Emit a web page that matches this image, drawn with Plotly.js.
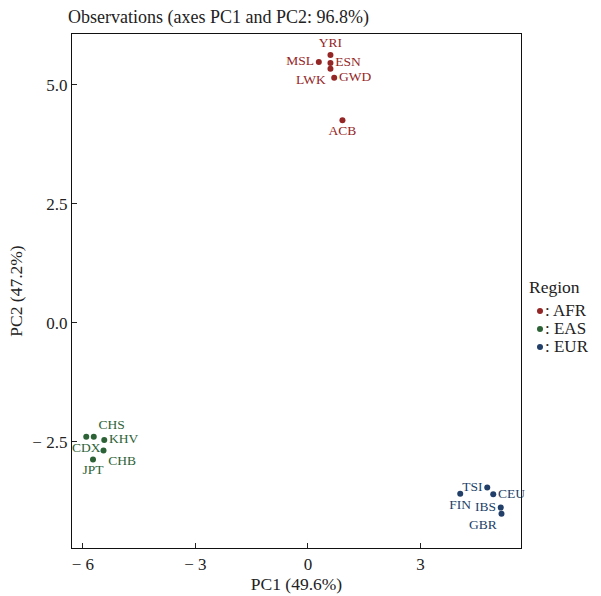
<!DOCTYPE html>
<html>
<head>
<meta charset="utf-8">
<script src="https://cdn.plot.ly/plotly-3.0.1.min.js"></script>
<style>html,body{margin:0;padding:0;background:#fff;}</style>
</head>
<body>
<div id="chart" style="width:601px;height:596px;"></div>
<script>
// Data
const afrLabels = ["YRI", "MSL", "ESN", "LWK", "GWD", "ACB"];
const afrPC1 = [0.60, 0.29, 0.60, 0.60, 0.70, 0.92];
const afrPC2 = [5.63, 5.48, 5.46, 5.34, 5.15, 4.26];

const easLabels = ["CDX", "CHS", "KHV", "CHB", "JPT"];
const easPC1 = [-5.91, -5.71, -5.43, -5.45, -5.73];
const easPC2 = [-2.39, -2.39, -2.46, -2.68, -2.87];

const eurLabels = ["TSI", "FIN", "CEU", "IBS", "GBR"];
const eurPC1 = [4.78, 4.06, 4.94, 5.14, 5.16];
const eurPC2 = [-3.46, -3.59, -3.60, -3.88, -4.01];

const regions = ["AFR", "EAS", "EUR"];
const xTickVals = [-6, -3, 0, 3];
const xTickText = ["\u2212 6", "\u2212 3", "0", "3"];
const yTickVals = [-2.5, 0, 2.5, 5];
const yTickText = ["\u2212 2.5", "0.0", "2.5", "5.0"];

// Styles
const colors = {AFR: "#952626", EAS: "#2d6236", EUR: "#223f69"};
const afrPos = ["top center", "middle left", "middle right", "bottom left", "middle right", "bottom center"];
const easPos = ["bottom center", "top right", "middle right", "bottom right", "bottom center"];
const eurPos = ["middle left", "bottom center", "middle right", "middle left", "bottom left"];

const font = "Liberation Serif, Times New Roman, serif";

// plot box in pixels
const L = 72, R = 521, T = 34, B = 548;
const px = v => (v - L) / (R - L);
const py = v => (B - v) / (B - T);

function mk(name, xs, ys, labels, pos) {
  return {
    type: "scatter", mode: "markers+text", name: ": " + name,
    x: xs, y: ys, text: labels, textposition: pos,
    marker: {color: colors[name], size: 6},
    textfont: {family: font, size: 13.5, color: colors[name]},
    cliponaxis: false, showlegend: false,
    hoverinfo: "text"
  };
}

const traces = [
  mk("AFR", afrPC1, afrPC2, afrLabels, afrPos),
  mk("EAS", easPC1, easPC2, easLabels, easPos),
  mk("EUR", eurPC1, eurPC2, eurLabels, eurPos)
];

// custom legend
const annotations = [{
  text: "Region", xref: "paper", yref: "paper", x: px(527), y: py(287),
  xanchor: "left", yanchor: "middle", showarrow: false,
  font: {family: font, size: 17.5, color: "#222"}
}];
const shapes = [];
const rowY = [310, 328, 346];
regions.forEach((r, i) => {
  annotations.push({
    text: ": " + r, xref: "paper", yref: "paper", x: px(544), y: py(rowY[i]),
    xanchor: "left", yanchor: "middle", showarrow: false,
    height: 16, valign: "middle", borderpad: 0,
    font: {family: font, size: 17, color: "#222"}
  });
  shapes.push({
    type: "circle", xref: "paper", yref: "paper",
    xsizemode: "pixel", ysizemode: "pixel",
    xanchor: px(540), yanchor: py(rowY[i] + 1),
    x0: -3, x1: 3, y0: -3, y1: 3,
    fillcolor: colors[r], line: {width: 0}
  });
});

const layout = {
  width: 601, height: 596,
  margin: {l: L, r: 601 - R, t: T, b: 596 - B, pad: 0, autoexpand: false},
  paper_bgcolor: "#fff", plot_bgcolor: "#fff",
  font: {family: font, size: 16, color: "#222"},
  title: {text: "Observations (axes PC1 and PC2: 96.8%)", x: 68/601, xref: "container", xanchor: "left",
          y: 1 - 17/596, yref: "container", yanchor: "middle",
          font: {family: font, size: 18, color: "#222"}},
  xaxis: {
    range: [-6.29, 5.68], tickvals: xTickVals, ticktext: xTickText,
    ticks: "inside", ticklen: 5, tickcolor: "#222", showgrid: false, zeroline: false,
    showline: true, linecolor: "#111", linewidth: 1.2, mirror: true,
    tickfont: {family: font, size: 17, color: "#222"},
    title: {text: "PC1 (49.6%)", font: {family: font, size: 17.5, color: "#222"}, standoff: 3}
  },
  yaxis: {
    range: [-4.73, 6.07], tickvals: yTickVals, ticktext: yTickText,
    ticks: "inside", ticklen: 5, tickcolor: "#222", showgrid: false, zeroline: false,
    showline: true, linecolor: "#111", linewidth: 1.2, mirror: true,
    tickfont: {family: font, size: 17, color: "#222"},
    title: {text: "PC2 (47.2%)", font: {family: font, size: 17.5, color: "#222"}, standoff: 5}
  },
  showlegend: false,
  annotations: annotations,
  shapes: shapes
};

Plotly.newPlot("chart", traces, layout, {displayModeBar: false, staticPlot: true});
</script>
</body>
</html>
